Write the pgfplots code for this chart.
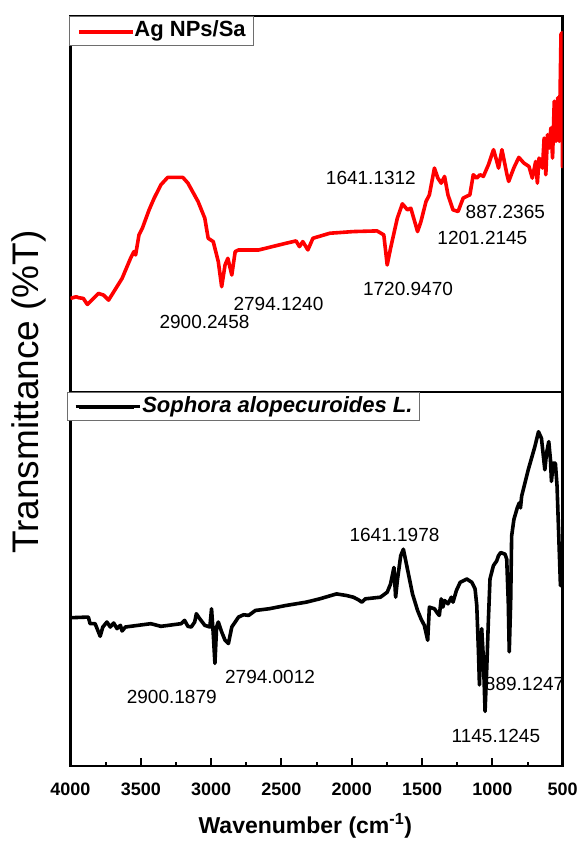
\documentclass[border=0pt]{standalone}
\usepackage{fontspec}
\setmainfont{Liberation Sans}
\usepackage{pgfplots}
\pgfplotsset{compat=1.18}
\definecolor{legendgray}{RGB}{110,110,110}
\newcommand{\annfont}{\fontsize{19}{19}\selectfont}
\tikzset{annot/.style={font=\annfont, anchor=center, inner sep=0pt}}
\begin{document}
\begin{tikzpicture}[x=1pt,y=1pt]
\useasboundingbox (0,0) rectangle (579,841);
\pgfplotsset{
  panel/.style={
    scale only axis, width=492.2pt,
    x dir=reverse, xmin=500, xmax=4000,
    ytick=\empty,
    axis line style={line width=2.6pt},
    tick align=inside,
    major tick length=8pt, minor tick length=4.5pt,
    every tick/.style={line width=2pt, black},
    legend cell align=left,
    /pgf/number format/assume math mode=true,
    /pgf/number format/1000 sep={},
  },
}
% ---------------- top panel ----------------
\begin{axis}[panel,
  at={(70.5pt,449pt)}, anchor=south west,
  height=376pt, ymin=0, ymax=1125,
  xtick=\empty,
  ylabel={Transmittance (\%T)},
  ylabel style={at={(axis description cs:-0.0843,0)}, anchor=center,
    font=\fontsize{37}{37}\selectfont},
  legend style={at={(rel axis cs:0,1)}, anchor=north west, xshift=-1.2pt,
    draw=legendgray, line width=0.8pt, fill=white,
    inner xsep=7.4pt, inner ysep=4pt,
    nodes={inner sep=0pt, text depth=4.5pt, text height=16.5pt},
    font=\bfseries\fontsize{22}{22}\selectfont},
  legend image code/.code={\draw[#1, line width=3.4pt] (0pt,-1pt) -- (54pt,-1pt);},
]
\addplot[red, line width=3.6pt, line join=round] coordinates {
(4000,280)(3960,285)(3940,282)(3909,280)(3880,262)(3801,295)(3765,290)(3729,275)
(3633,340)(3573,400)(3549,420)(3537,410)(3513,470)(3489,490)(3441,545)(3405,580)
(3357,620)(3309,642)(3201,642)(3165,625)(3093,570)(3045,520)(3021,460)(2985,450)
(2949,390)(2925,315)(2901,380)(2881,400)(2853,350)(2829,420)(2805,425)(2661,425)
(2468,445)(2396,452)(2372,435)(2348,450)(2312,425)(2276,460)(2156,475)(1988,480)
(1820,482)(1772,470)(1748,380)(1724,430)(1676,520)(1640,563)(1604,545)(1580,550)
(1532,480)(1508,510)(1472,570)(1448,590)(1412,670)(1388,640)(1364,625)(1340,645)
(1316,590)(1280,545)(1244,540)(1208,580)(1160,590)(1136,650)(1112,640)(1088,650)
(1064,645)(1028,680)(992,725)(975,700)(956,670)(932,725)(896,650)(884,630)
(848,670)(812,702)(776,685)(740,675)(716,640)(692,690)(680,625)(668,700)
(644,670)(632,760)(620,650)(608,770)(596,730)(584,790)(572,700)(560,870)
(548,750)(536,880)(524,750)(512,1070)(505,1075)(501,670)
};
\addlegendentry{Ag NPs/Sa}
\node[annot] at (axis cs:1864,640) {1641.1312};
\node[annot] at (axis cs:908,540) {887.2365};
\node[annot] at (axis cs:1071,460) {1201.2145};
\node[annot] at (axis cs:1600,307) {1720.9470};
\node[annot] at (axis cs:2521,263) {2794.1240};
\node[annot] at (axis cs:3047,210) {2900.2458};
\end{axis}
% ---------------- bottom panel ----------------
\begin{axis}[panel,
  at={(70.5pt,75pt)}, anchor=south west,
  height=374pt, ymin=0, ymax=1130,
  xtick={500,1000,...,4000}, minor x tick num=1, xtick pos=left,
  xticklabel style={font=\bfseries\fontsize{18}{18}\selectfont, yshift=-13.5pt},
  xlabel={Wavenumber (cm\textsuperscript{-1})},
  xlabel style={at={(axis description cs:0.477,-0.181)}, anchor=base,
    font=\bfseries\fontsize{23}{23}\selectfont},
  legend style={at={(rel axis cs:0,1)}, anchor=north west, xshift=-3.8pt,
    draw=legendgray, line width=0.8pt, fill=white,
    inner xsep=6.7pt, inner ysep=3.5pt,
    nodes={inner sep=0pt, text depth=4.5pt, text height=16.5pt},
    font=\bfseries\itshape\fontsize{22}{22}\selectfont},
  legend image code/.code={\path (0pt,0pt) -- (64.9pt,0pt);
    \draw[#1, line width=3.4pt] (3.3pt,-1pt) -- (58.3pt,-1pt);},
]
\addplot[black, line width=3.6pt, line join=round] coordinates {
(4000,448)(3873,450)(3861,430)(3825,430)(3789,392)(3770,420)(3741,435)(3717,420)
(3693,432)(3669,415)(3645,425)(3633,408)(3609,420)(3429,430)(3357,422)(3213,430)
(3189,440)(3165,422)(3141,420)(3117,435)(3105,460)(3081,445)(3045,425)(3009,420)
(2997,475)(2985,400)(2973,310)(2961,420)(2949,435)(2925,405)(2901,380)(2877,370)
(2853,420)(2805,450)(2769,457)(2733,455)(2685,470)(2589,475)(2468,485)(2324,495)
(2228,505)(2108,520)(2036,515)(1988,510)(1952,502)(1928,495)(1904,505)(1796,510)
(1748,525)(1724,550)(1700,600)(1688,510)(1676,560)(1652,635)(1633,655)(1616,620)
(1592,570)(1568,520)(1532,470)(1508,445)(1484,425)(1460,380)(1448,480)(1412,475)
(1388,460)(1377,455)(1364,505)(1352,480)(1340,500)(1316,490)(1292,510)(1280,495)
(1256,530)(1229,555)(1182,565)(1146,555)(1123,535)(1111,485)(1099,345)(1092,245)
(1083,365)(1076,415)(1064,325)(1052,165)(1040,295)(1028,445)(1017,565)(993,605)
(969,620)(957,635)(941,645)(910,640)(898,625)(887,495)(880,345)(870,495)
(863,695)(847,745)(823,780)(809,795)(800,780)(792,815)(745,895)(698,965)
(672,1010)(651,990)(627,895)(615,945)(599,980)(587,925)(580,860)(568,915)
(552,915)(540,845)(528,695)(516,545)(505,545)
};
\addlegendentry{Sophora alopecuroides L.}
\node[annot] at (axis cs:1696,698) {1641.1978};
\node[annot] at (axis cs:2581,268) {2794.0012};
\node[annot] at (axis cs:3280,210) {2900.1879};
\node[annot] at (axis cs:771,248) {889.1247};
\node[annot] at (axis cs:975,92) {1145.1245};
\end{axis}
\end{tikzpicture}
\end{document}
